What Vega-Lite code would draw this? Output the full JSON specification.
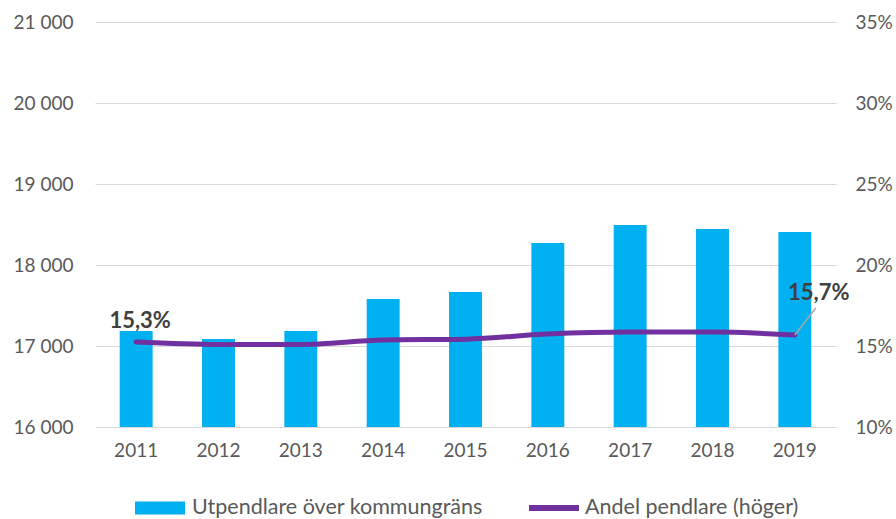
{
  "$schema": "https://vega.github.io/schema/vega-lite/v6.json",
  "autosize": "none",
  "width": 741,
  "height": 405,
  "padding": {"left": 95, "top": 22, "right": 60, "bottom": 92},
  "background": "white",
  "config": {
    "view": {"stroke": null},
    "font": "Lato",
    "axis": {"labelFont": "Lato", "labelFontSize": 19, "labelColor": "#595959", "ticks": false, "domain": false, "gridColor": "#D9D9D9", "gridWidth": 1.2},
    "legend": {"labelFont": "Lato", "labelFontSize": 21.5, "labelColor": "#595959", "orient": "bottom", "title": null, "labelLimit": 0,
      "layout": {"bottom": {"anchor": "middle", "direction": "horizontal", "margin": 44}}}
  },
  "data": {
    "values": [
      {"year": "2011", "utpendlare": 17185, "andel": 15.25, "label": "15,3%"},
      {"year": "2012", "utpendlare": 17086, "andel": 15.1, "label": ""},
      {"year": "2013", "utpendlare": 17185, "andel": 15.1, "label": ""},
      {"year": "2014", "utpendlare": 17580, "andel": 15.37, "label": ""},
      {"year": "2015", "utpendlare": 17667, "andel": 15.42, "label": ""},
      {"year": "2016", "utpendlare": 18272, "andel": 15.74, "label": ""},
      {"year": "2017", "utpendlare": 18494, "andel": 15.86, "label": ""},
      {"year": "2018", "utpendlare": 18444, "andel": 15.86, "label": ""},
      {"year": "2019", "utpendlare": 18407, "andel": 15.68, "label": "15,7%"}
    ]
  },
  "encoding": {
    "x": {"field": "year", "type": "ordinal", "title": null,
      "scale": {"paddingInner": 0.6, "paddingOuter": 0.3},
      "axis": {"labelAngle": 0, "labelPadding": 14, "grid": false}}
  },
  "layer": [
    {
      "mark": {"type": "bar", "color": "#00B0F0"},
      "encoding": {
        "y": {"field": "utpendlare", "type": "quantitative", "title": null,
          "scale": {"domain": [16000, 21000], "zero": false, "nice": false},
          "axis": {"orient": "left", "values": [16000, 17000, 18000, 19000, 20000, 21000], "labelExpr": "replace(format(datum.value, ','), ',', ' ')", "labelPadding": 22, "grid": true}},
        "y2": {"datum": 16000},
        "fill": {"datum": "Utpendlare över kommungräns", "type": "nominal",
          "scale": {"range": ["#00B0F0"]},
          "legend": {"symbolType": "M-1,-0.26H1V0.26H-1Z", "symbolSize": 2500, "symbolStrokeWidth": 6, "symbolStrokeColor": "transparent", "labelOffset": 4, "offset": 20, "labelLimit": 0}}
      }
    },
    {
      "encoding": {
        "y": {"field": "andel", "type": "quantitative", "title": null,
          "scale": {"domain": [10, 35], "zero": false, "nice": false},
          "axis": {"orient": "right", "values": [10, 15, 20, 25, 30, 35], "labelExpr": "datum.value + '%'", "labelPadding": 19, "grid": false}}
      },
      "layer": [
        {
          "mark": {"type": "line", "interpolate": "monotone", "strokeWidth": 5, "strokeCap": "round"},
          "encoding": {
            "stroke": {"datum": "Andel pendlare (höger)", "type": "nominal",
              "scale": {"range": ["#7030A0"]},
              "legend": {"symbolType": "M-1.04,0H0.96", "symbolSize": 2500, "symbolStrokeWidth": 6, "labelOffset": 2, "offset": 20, "labelLimit": 0}}
          }
        },
        {
          "transform": [{"filter": "datum.year == '2019'"}],
          "mark": {"type": "rule", "color": "#A6A6A6", "strokeWidth": 1.5, "x2Offset": 21},
          "encoding": {
            "x2": {"field": "year"},
            "y2": {"datum": 17.35}
          }
        },
        {
          "transform": [{"filter": "datum.year == '2011'"}],
          "mark": {"type": "text", "fontSize": 22, "fontWeight": "bold", "color": "#404040", "dx": 4, "dy": -21, "font": "Lato"},
          "encoding": {"text": {"field": "label"}}
        },
        {
          "transform": [{"filter": "datum.year == '2019'"}],
          "mark": {"type": "text", "fontSize": 22, "fontWeight": "bold", "color": "#404040", "dx": 24, "dy": -42, "font": "Lato"},
          "encoding": {"text": {"field": "label"}}
        }
      ]
    }
  ],
  "resolve": {"scale": {"y": "independent"}}
}
